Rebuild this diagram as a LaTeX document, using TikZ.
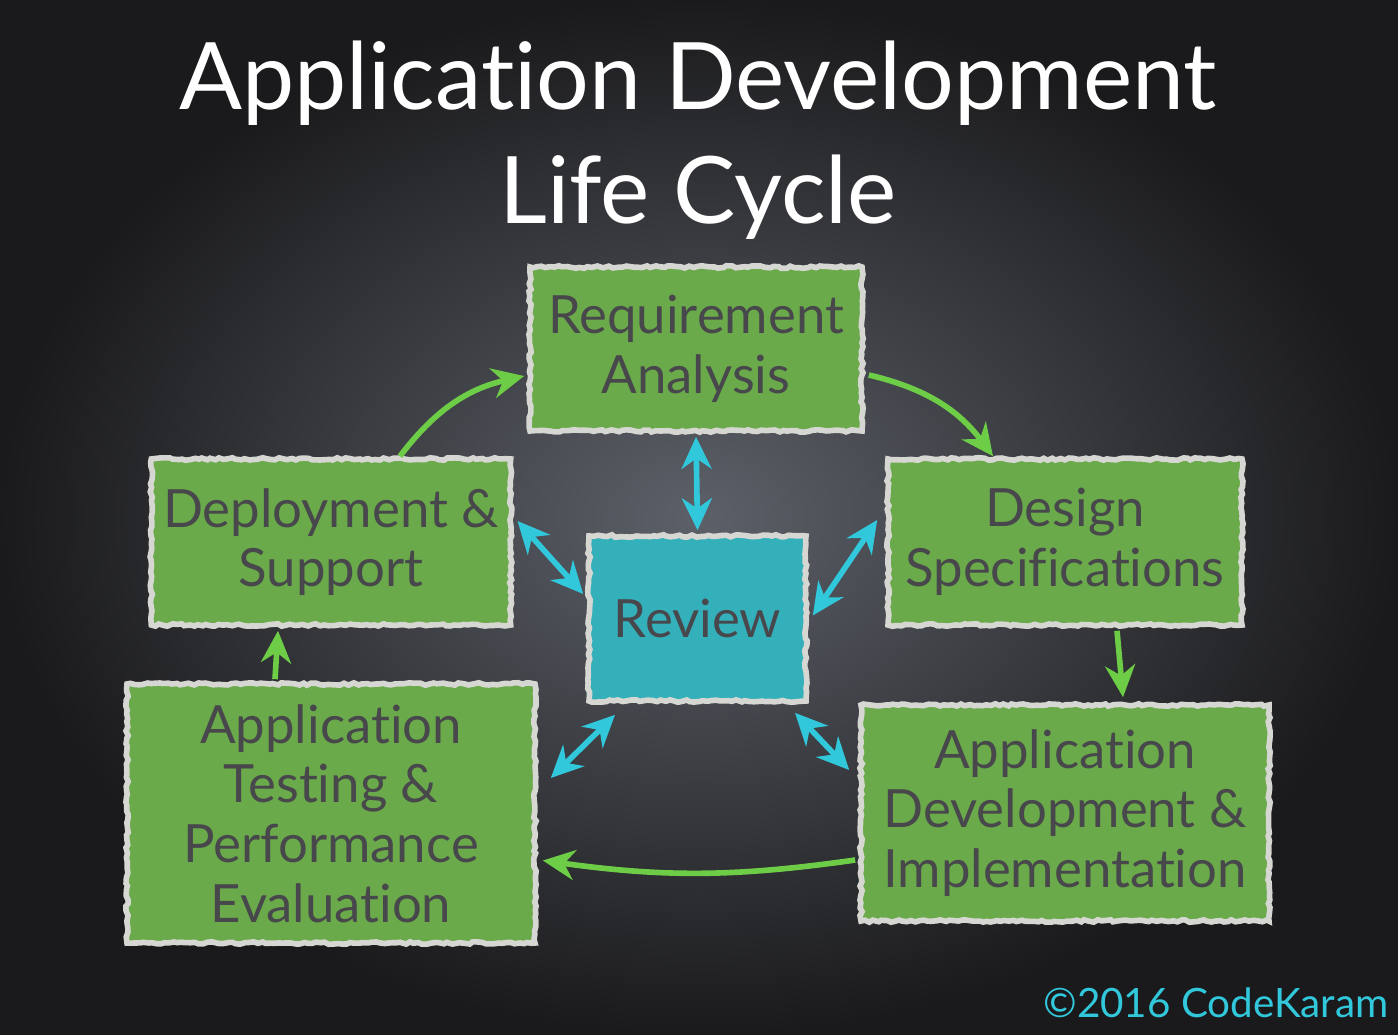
\documentclass[tikz,border=0pt]{standalone}
\usepackage{fontspec}
\usepackage{xcolor}
\usepackage{tikz}
\usetikzlibrary{arrows.meta,positioning,calc,decorations.pathmorphing}
\setmainfont{Lato}[Ligatures=NoCommon]
\newfontfamily\titlefont{Lato}[Ligatures=NoCommon]
\definecolor{boardmid}{RGB}{92,96,104}
\definecolor{boardedge}{RGB}{26,26,28}
\definecolor{chalkgreen}{RGB}{106,170,74}
\definecolor{chalkline}{RGB}{214,214,210}
\definecolor{chalktext}{RGB}{72,72,76}
\definecolor{reviewteal}{RGB}{52,176,187}
\definecolor{arrowgreen}{RGB}{110,205,70}
\definecolor{arrowcyan}{RGB}{50,200,220}

\begin{document}
\begin{tikzpicture}[x=1cm, y=1cm, >={Stealth[length=3.2mm,width=3mm]},
 every node/.style={align=center},
 stage/.style={draw=chalkline, line width=1.6pt, fill=chalkgreen, text=chalktext, font=\fontsize{15}{17}\selectfont,
  decorate, decoration={random steps, segment length=1.2pt, amplitude=0.35pt}},
 reviewbox/.style={stage, fill=reviewteal},
 flow/.style={->, draw=arrowgreen, line width=1.6pt},
 check/.style={<->, draw=arrowcyan, line width=1.6pt}]
\useasboundingbox (0,0) rectangle (13.98,-10.34);
\shade[inner color=boardmid, outer color=boardedge] (0,0) rectangle (13.98,-10.34);
\node[font=\titlefont\fontsize{26.5}{32.5}\selectfont, text=white] (title) at (6.98,-1.40) {Application Development\\Life Cycle};
\node[stage, minimum width=3.32cm, minimum height=1.64cm] (req) at (6.96,-3.49) {Requirement\\Analysis};
\node[stage, minimum width=3.54cm, minimum height=1.66cm] (dep) at (3.31,-5.42) {Deployment \&\\Support};
\node[stage, minimum width=3.54cm, minimum height=1.66cm] (des) at (10.65,-5.42) {Design\\Specifications};
\node[reviewbox, minimum width=2.17cm, minimum height=1.65cm] (rev) at (6.975,-6.185) {Review};
\node[stage, minimum width=4.08cm, minimum height=2.59cm] (tst) at (3.31,-8.135) {Application\\Testing \&\\Performance\\Evaluation};
\node[stage, minimum width=4.08cm, minimum height=2.16cm] (dev) at (10.65,-8.13) {Application\\Development \&\\Implementation};
\node[font=\fontsize{11.5}{14}\selectfont, text=arrowcyan] (credit) at (12.16,-10.03) {©2016 CodeKaram};
\draw[flow] ([xshift=0.69cm]dep.north) to[bend left=20] ([shift={(-0.03,-0.27)}]req.west);
\draw[flow] ([shift={(0.04,-0.26)}]req.east) to[bend left=20] ([xshift=-0.72cm]des.north);
\draw[flow] ([shift={(0.52,-0.03)}]des.south) -- ([shift={(0.58,0.05)}]dev.north);
\draw[flow] ([shift={(-0.03,-0.47)}]dev.west) to[bend left=8] ([shift={(0.05,-0.47)}]tst.east);
\draw[flow] ([shift={(-0.56,0.02)}]tst.north) -- ([shift={(-0.53,-0.03)}]dep.south);
\draw[check] ([yshift=-0.03cm]req.south) -- ([yshift=0.03cm]rev.north);
\draw[check] ([shift={(0.04,0.21)}]dep.east) -- ([shift={(-0.03,0.245)}]rev.west);
\draw[check] ([shift={(-0.08,0.22)}]des.west) -- ([shift={(0.04,0.03)}]rev.east);
\draw[check] ([shift={(-0.825,-0.11)}]rev.south) -- ([shift={(0.13,0.355)}]tst.east);
\draw[check] ([shift={(0.975,-0.09)}]rev.south) -- ([shift={(-0.09,0.43)}]dev.west);
\end{tikzpicture}
\end{document}
